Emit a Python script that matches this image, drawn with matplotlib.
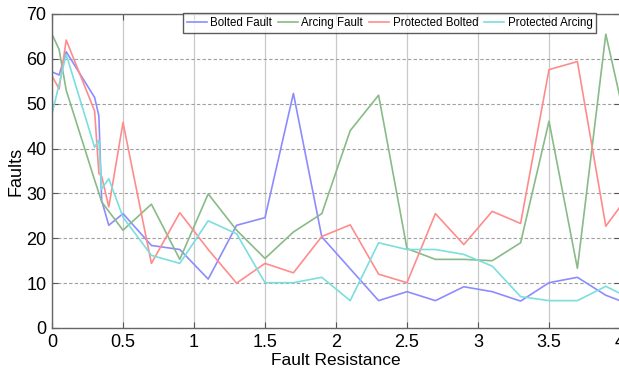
import matplotlib
matplotlib.use("Agg")
import matplotlib.pyplot as plt

resistance = [0, 0.05, 0.1, 0.3, 0.33, 0.35, 0.4, 0.5, 0.7, 0.9, 1.1, 1.3, 1.5, 1.7,
              1.9, 2.1, 2.3, 2.5, 2.7, 2.9, 3.1, 3.3, 3.5, 3.7, 3.9, 4.0]
bolted_fault = [57.1, 56.4, 61.6, 51.4, 47.3, 28.4, 22.9, 25.5, 18.4, 17.5, 10.9, 22.9, 24.6, 52.3,
                20.3, 13.2, 6.1, 8.1, 6.1, 9.2, 8.1, 6.0, 10.1, 11.3, 7.3, 6.1]
arcing_fault = [65.5, 62.1, 53.0, 33.0, 30.1, 28.1, 26.0, 21.8, 27.6, 15.3, 29.9, 21.8, 15.5, 21.4,
                25.5, 44.0, 51.9, 17.7, 15.3, 15.3, 15.0, 19.0, 46.1, 13.3, 65.5, 51.4]
protected_bolted = [56.2, 53.3, 64.2, 48.4, 34.5, 33.8, 27.0, 45.8, 14.4, 25.7, 17.5, 10.0, 14.4, 12.3,
                    20.4, 23.0, 12.0, 10.1, 25.5, 18.6, 26.0, 23.3, 57.6, 59.4, 22.7, 27.0]
protected_arcing = [47.7, 54.3, 61.0, 40.3, 41.9, 31.0, 33.3, 24.7, 16.2, 14.4, 23.9, 21.0, 10.1, 10.1,
                    11.3, 6.1, 19.0, 17.5, 17.5, 16.4, 13.8, 7.0, 6.1, 6.1, 9.3, 7.7]

series_labels = ["Bolted Fault", "Arcing Fault", "Protected Bolted", "Protected Arcing"]
x_ticks = [0, 0.5, 1, 1.5, 2, 2.5, 3, 3.5, 4]
x_tick_labels = ["0", "0.5", "1", "1.5", "2", "2.5", "3", "3.5", "4"]
y_ticks = [0, 10, 20, 30, 40, 50, 60, 70]

plt.rcParams['font.family'] = ['Liberation Sans', 'DejaVu Sans']

fig = plt.figure(figsize=(6.19, 3.74), dpi=100)
ax = fig.add_axes([52/619, 1-328/374, 568/619, (328-14)/374])

colors = ['#8c8cff', '#88bb88', '#ff8c8c', '#7cdede']
for ys, c, lab in zip([bolted_fault, arcing_fault, protected_bolted, protected_arcing], colors, series_labels):
    ax.plot(resistance, ys, color=c, lw=1.2, label=lab)

ax.set_xlim(0, 4)
ax.set_ylim(0, 70)
ax.set_xticks(x_ticks)
ax.set_xticklabels(x_tick_labels)
ax.set_yticks(y_ticks)

ax.xaxis.grid(True, color='#c8c8c8', linestyle='-', lw=0.9)
ax.yaxis.grid(True, color='#a0a0a0', linestyle=(0, (3, 2)), lw=0.8)
ax.set_axisbelow(True)

ax.tick_params(direction='in', top=True, right=True, labelsize=13, length=4, color='#555555', pad=4)
for s in ax.spines.values():
    s.set_color('#666666')
    s.set_linewidth(1.0)

ax.set_xlabel("Fault Resistance", fontsize=12.5, labelpad=2)
ax.set_ylabel("Faults", fontsize=13, labelpad=1)

leg = ax.legend(loc='upper left', bbox_to_anchor=(183/619, 1-13/374), bbox_transform=fig.transFigure,
                ncol=4, fontsize=8.3, frameon=True, fancybox=False, edgecolor='#333333',
                handlelength=1.7, handletextpad=0.3, columnspacing=0.55, borderpad=0.35,
                borderaxespad=0)
leg.get_frame().set_linewidth(1.0)

fig.savefig("out.png", dpi=100)
